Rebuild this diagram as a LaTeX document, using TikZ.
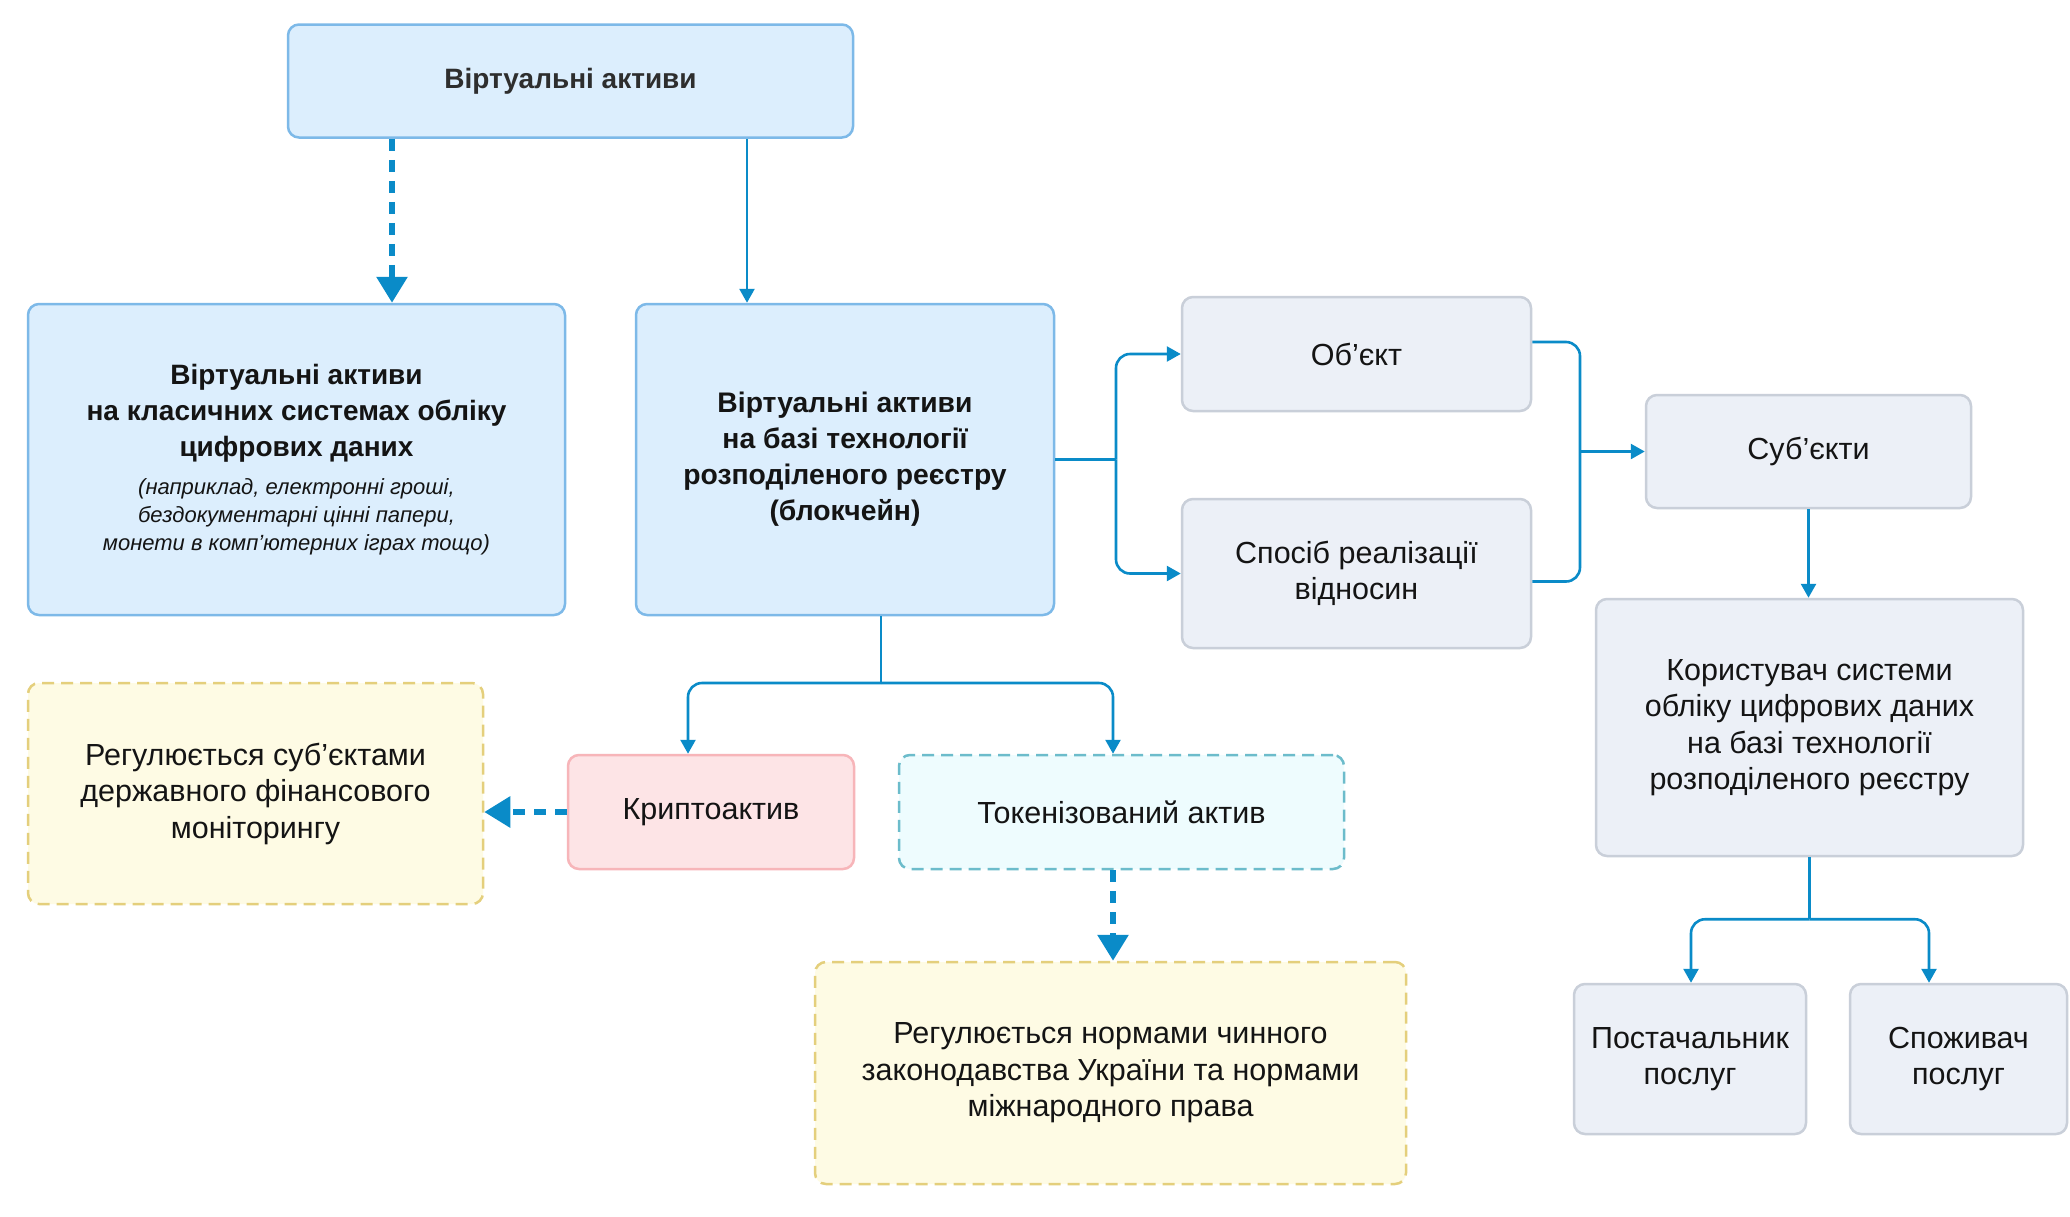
\documentclass[tikz,border=0pt]{standalone}
\usepackage{fontspec}
\setmainfont{Liberation Sans}
\usetikzlibrary{arrows.meta,calc}
\definecolor{conncol}{HTML}{0A8BC8}
\definecolor{bluefill}{HTML}{DCEEFD}
\definecolor{blueborder}{HTML}{7DB9E8}
\definecolor{greyfill}{HTML}{ECF0F7}
\definecolor{greyborder}{HTML}{C9CFD9}
\definecolor{pinkfill}{HTML}{FDE4E6}
\definecolor{pinkborder}{HTML}{F7B5B9}
\definecolor{cyanfill}{HTML}{EEFCFE}
\definecolor{cyanborder}{HTML}{6CBCCB}
\definecolor{yelfill}{HTML}{FEFBE4}
\definecolor{yelborder}{HTML}{E4CF7C}
\definecolor{txtcol}{HTML}{141414}
\definecolor{titlecol}{HTML}{2E2E2E}
\tikzset{
  box/.style={rectangle, rounded corners=11pt, line width=2.5pt, align=center, text=txtcol, inner sep=0pt, font=\fontsize{30.5}{36.5}\selectfont},
  wh/.style 2 args={minimum width=#1pt, minimum height=#2pt},
  bluebox/.style={box, fill=bluefill, draw=blueborder},
  greybox/.style={box, fill=greyfill, draw=greyborder},
  pinkbox/.style={box, fill=pinkfill, draw=pinkborder},
  cyanbox/.style={box, fill=cyanfill, draw=cyanborder, dash pattern=on 12pt off 7pt},
  yelbox/.style={box, fill=yelfill, draw=yelborder, dash pattern=on 12pt off 7pt},
  conn/.style={draw=conncol, line width=2.6pt},
  arr/.style={conn, -{Triangle[length=14pt,width=15pt]}},
  darr/.style={draw=conncol, line width=6pt, dash pattern=on 12pt off 9pt, -{Triangle[length=26pt,width=30pt]}},
}
\begin{document}
\begin{tikzpicture}[x=1pt,y=-1pt]
\useasboundingbox[fill=white] (0,0) rectangle (2070,1216);

% nodes
\node[bluebox, wh={565}{113}, text=titlecol, font=\bfseries\fontsize{28}{34}\selectfont] (top) at (570.5,81) {Віртуальні активи};

\node[bluebox, wh={537}{311}, text width=520pt, align=flush center] (classic) at (296.5,459.5)
  {{\bfseries\fontsize{28}{36}\selectfont Віртуальні активи\\на класичних системах обліку\\цифрових даних\par}
   \vspace{10pt}
   {\itshape\fontsize{22}{28}\selectfont (наприклад, електронні гроші,\\бездокументарні цінні папери,\\монети в комп’ютерних іграх тощо)\par}};

\node[bluebox, wh={418}{311}, font=\bfseries\fontsize{28.3}{36}\selectfont] (dlt) at (845,459.5)
  {Віртуальні активи\\на базі технології\\розподіленого реєстру\\(блокчейн)};

\node[greybox, wh={349}{114}] (obj) at (1356.5,354) {Об’єкт};
\node[greybox, wh={349}{149}] (way) at (1356.5,573.5) {Спосіб реалізації\\відносин};
\node[greybox, wh={325}{113}] (subj) at (1808.5,451.5) {Суб’єкти};
\node[greybox, wh={427}{257}] (korist) at (1809.5,727.5) {Користувач системи\\обліку цифрових даних\\на базі технології\\розподіленого реєстру};
\node[greybox, wh={232}{150}] (post) at (1690,1059) {Постачальник\\послуг};
\node[greybox, wh={217}{150}] (spoz) at (1958.5,1059) {Споживач\\послуг};

\node[yelbox, wh={455}{221}] (yleft) at (255.5,793.5) {Регулюється суб’єктами\\державного фінансового\\моніторингу};
\node[pinkbox, wh={286}{114}] (krypto) at (711,812) {Криптоактив};
\node[cyanbox, wh={445}{114}] (token) at (1121.5,812) {Токенізований актив};
\node[yelbox, wh={591}{222}] (ybot) at (1110.5,1073) {Регулюється нормами чинного\\законодавства України та нормами\\міжнародного права};

% helper coordinates
\coordinate (xd) at (392,0);
\coordinate (xs) at (747,0);
\coordinate (bus1) at (1116,0);
\coordinate (bus2) at (1580,0);
\coordinate (xm) at (881,0);
\coordinate (xk) at (688,0);
\coordinate (xt) at (1113,0);
\coordinate (xp) at (1691,0);
\coordinate (xc) at (1929,0);

% connectors
\draw[darr] (top.south -| xd) -- (classic.north -| xd);
\draw[arr] (top.south -| xs) -- (dlt.north -| xs);

\draw[conn] (dlt.east) -- (dlt.east -| bus1);
\draw[arr, rounded corners=14pt] (dlt.east -| bus1) |- (obj.west);
\draw[arr, rounded corners=14pt] (dlt.east -| bus1) |- (way.west);

\coordinate (o1) at ($(obj.east)+(0,-12)$);
\coordinate (w1) at ($(way.east)+(0,8)$);
\draw[conn, rounded corners=14pt] (o1) -- (o1 -| bus2) -- (w1 -| bus2) -- (w1);
\draw[arr] (subj.west -| bus2) -- (subj.west);

\draw[arr] (subj.south) -- (subj.south |- korist.north);

\coordinate (j2) at ($(korist.south)+(0,62)$);
\draw[conn] (korist.south) -- (j2);
\draw[arr, rounded corners=14pt] (j2) -| (xp |- post.north);
\draw[arr, rounded corners=14pt] (j2) -| (xc |- spoz.north);

\coordinate (j1) at (881,683);
\draw[conn] (dlt.south -| xm) -- (j1);
\draw[arr, rounded corners=14pt] (j1) -| (xk |- krypto.north);
\draw[arr, rounded corners=14pt] (j1) -| (xt |- token.north);

\draw[darr] (krypto.west) -- (krypto.west -| yleft.east);
\draw[darr] (token.south -| xt) -- (ybot.north -| xt);
\end{tikzpicture}
\end{document}
